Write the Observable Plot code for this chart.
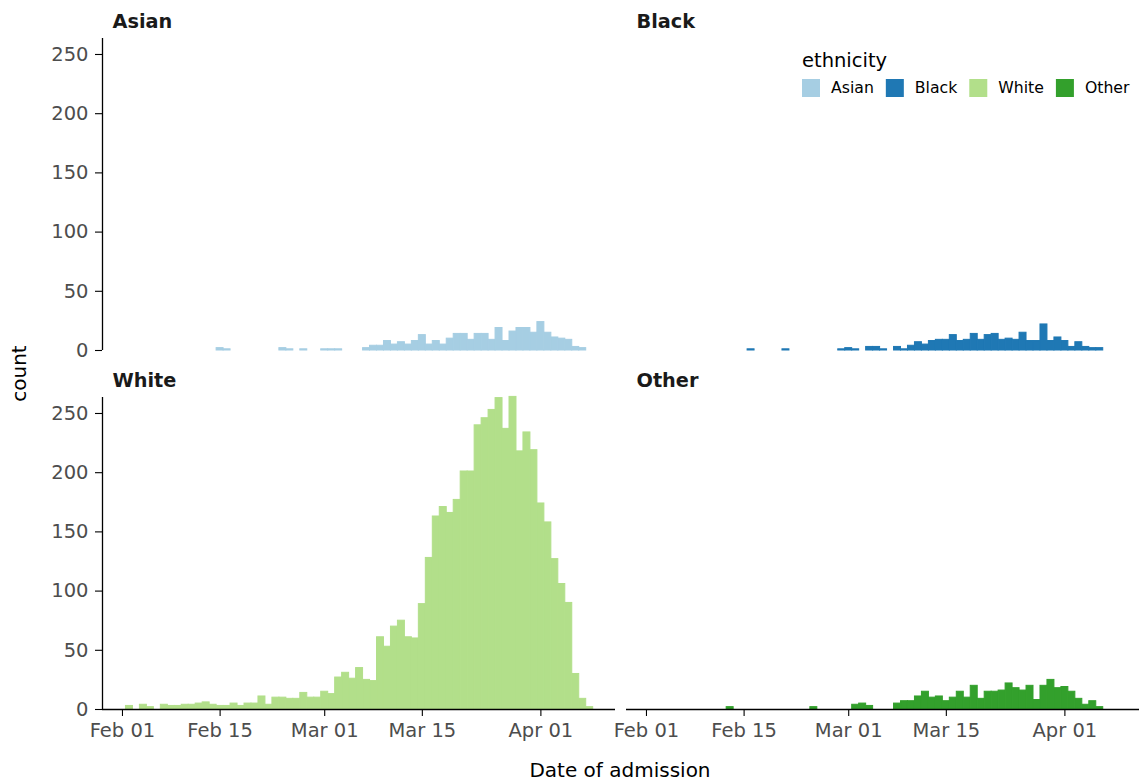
<!DOCTYPE html>
<html>
<head>
<meta charset="utf-8">
<script src="https://cdn.jsdelivr.net/npm/d3@7"></script>
<script src="https://cdn.jsdelivr.net/npm/@observablehq/plot@0.6"></script>
<style>
  body { margin: 0; background: #fff; }
  #chart svg { display: block; }
  g[aria-label="x-axis tick label"], g[aria-label="y-axis tick label"] { fill: #4d4d4d; }
  g[aria-label="x-axis tick"], g[aria-label="y-axis tick"] { stroke: #333333; stroke-width: 1.1px; }
</style>
</head>
<body>
<div id="chart"></div>
<script>
// ---- data (daily admission counts) ----
const ethnicities = ["Asian", "Black", "White", "Other"];
const palette = ["#A6CEE3", "#1F78B4", "#B2DF8A", "#33A02C"];
const facetCol = [0, 1, 0, 1];
const facetRow = [0, 0, 1, 1];

const asianStart = "2020-02-15";
const asianCounts = [2, 1, 0, 0, 0, 0, 0, 0, 0, 2, 1, 0, 1, 0, 0, 1, 1, 1, 0, 0, 0,
  2, 4, 4, 8, 5, 7, 5, 8, 13, 5, 8, 5, 10, 14, 14, 9, 14, 14, 9, 19, 8, 16, 19, 19, 15, 24, 15, 11, 10, 9, 3, 2];

const blackStart = "2020-02-16";
const blackCounts = [1, 0, 0, 0, 0, 1, 0, 0, 0, 0, 0, 0, 0, 1, 2, 1, 0, 3, 3, 1, 0,
  3, 1, 4, 7, 5, 8, 9, 9, 13, 8, 9, 14, 9, 13, 14, 9, 10, 9, 15, 8, 8, 22, 8, 11, 8, 3, 7, 3, 2, 2];

const whiteStart = "2020-02-02";
const whiteCounts = [3, 0, 4, 2, 0, 4, 3, 3, 4, 4, 5, 6, 4, 3, 3, 5, 3, 5, 5, 11, 4, 10, 10, 9, 9, 14, 10, 10,
  15, 13, 27, 31, 26, 35, 25, 24, 61, 53, 70, 75, 61, 60, 89, 128, 163, 171, 166, 177, 201, 201,
  240, 246, 253, 263, 237, 264, 218, 234, 219, 174, 158, 127, 106, 90, 30, 9, 2];

const otherStart = "2020-02-13";
const otherCounts = [2, 0, 0, 0, 0, 0, 0, 0, 0, 0, 0, 0, 2, 0, 0, 0, 0, 0, 4, 5, 3, 0, 0, 0,
  5, 7, 7, 11, 15, 10, 11, 7, 10, 15, 10, 20, 9, 15, 15, 16, 22, 18, 16, 20, 8, 20, 25, 18, 19, 15, 9, 4, 7, 2];

const xTickLabels = ["2020-02-01", "2020-02-15", "2020-03-01", "2020-03-15", "2020-04-01"];
const yTickValues = [0, 50, 100, 150, 200, 250];

// ---- build table ----
const series = [
  [asianStart, asianCounts], [blackStart, blackCounts],
  [whiteStart, whiteCounts], [otherStart, otherCounts]
];
const rows = [];
series.forEach(([start, counts], k) => {
  const d0 = new Date(start + "T00:00:00Z");
  counts.forEach((c, i) => {
    if (c > 0) rows.push({
      ethnicity: ethnicities[k], date: d3.utcDay.offset(d0, i), count: c,
      col: facetCol[k], row: facetRow[k]
    });
  });
});
const panels = ethnicities.map((name, k) => ({name, col: facetCol[k], row: facetRow[k]}));
const leftPanels = panels.filter(p => p.col === 0);
const bottomPanels = panels.filter(p => p.row === 1);

const DAY = 864e5;
const feb1 = Date.UTC(2020, 1, 1);
const xDomain = [new Date(feb1 - 2.865 * DAY), new Date(feb1 + 70.70 * DAY)];
const xTicks = xTickLabels.map(s => new Date(s + "T00:00:00Z"));

const plot = Plot.plot({
  width: 1139,
  height: 784,
  marginLeft: 101,
  marginRight: 0,
  marginTop: 38,
  marginBottom: 75,
  style: {fontFamily: "'DejaVu Sans', sans-serif", fontSize: "19.5px", background: "#fff", color: "#000"},
  x: {type: "utc", domain: xDomain},
  y: {domain: [0, 263.5]},
  fx: {domain: [0, 1], paddingInner: 0.021, paddingOuter: 0, axis: null},
  fy: {domain: [0, 1], paddingInner: 0.131, paddingOuter: 0, axis: null},
  color: {domain: ethnicities, range: palette},
  marks: [
    Plot.rectY(rows, {
      x1: d => d3.utcHour.offset(d.date, -12),
      x2: d => d3.utcHour.offset(d.date, 12),
      y: "count", fill: "ethnicity", fx: "col", fy: "row",
      stroke: "ethnicity", strokeWidth: 1
    }),
    Plot.axisX({ticks: xTicks, tickFormat: d3.utcFormat("%b %d"), tickSize: 7, tickPadding: 7, label: null}),
    Plot.axisY({ticks: yTickValues, tickSize: 7, tickPadding: 7, label: null}),
    Plot.ruleY(bottomPanels, {y: () => 0, fx: "col", fy: "row", stroke: "#000", strokeWidth: 1.3}),
    Plot.ruleX(leftPanels, {x: () => xDomain[0], fx: "col", fy: "row", stroke: "#000", strokeWidth: 1.3}),
    Plot.text(panels, {
      text: "name", fx: "col", fy: "row", frameAnchor: "top-left",
      dx: 10, dy: -11, lineAnchor: "bottom", textAnchor: "start",
      fontWeight: "bold", fontSize: 19.3, fill: "#1a1a1a"
    })
  ]
});

document.getElementById("chart").appendChild(plot);

// ---- axis titles and legend ----
const svg = d3.select(plot);
const font = "'DejaVu Sans', sans-serif";
svg.append("text")
  .attr("x", 620).attr("y", 777)
  .attr("text-anchor", "middle")
  .style("font-family", font).style("font-size", "20px").attr("fill", "#000")
  .text("Date of admission");
svg.append("text")
  .attr("transform", "translate(25.5,373.5) rotate(-90)")
  .attr("text-anchor", "middle")
  .style("font-family", font).style("font-size", "20px").attr("fill", "#000")
  .text("count");

const color = plot.scale("color");
const lg = svg.append("g").attr("text-anchor", "start");
lg.append("text")
  .attr("x", 802).attr("y", 66.5)
  .attr("text-anchor", "start")
  .style("font-family", font).style("font-size", "19.5px").attr("fill", "#000")
  .text("ethnicity");
let lx = 802;
color.domain.forEach((name, i) => {
  lg.append("rect").attr("x", lx).attr("y", 79).attr("width", 18).attr("height", 18)
    .attr("fill", color.range[i]);
  const t = lg.append("text")
    .attr("x", lx + 29).attr("y", 88).attr("dy", "0.35em")
    .attr("text-anchor", "start")
    .style("font-family", font).style("font-size", "15.7px").attr("fill", "#000")
    .text(name);
  const w = t.node().getComputedTextLength();
  lx = lx + 29 + w + 12;
});
</script>
</body>
</html>
